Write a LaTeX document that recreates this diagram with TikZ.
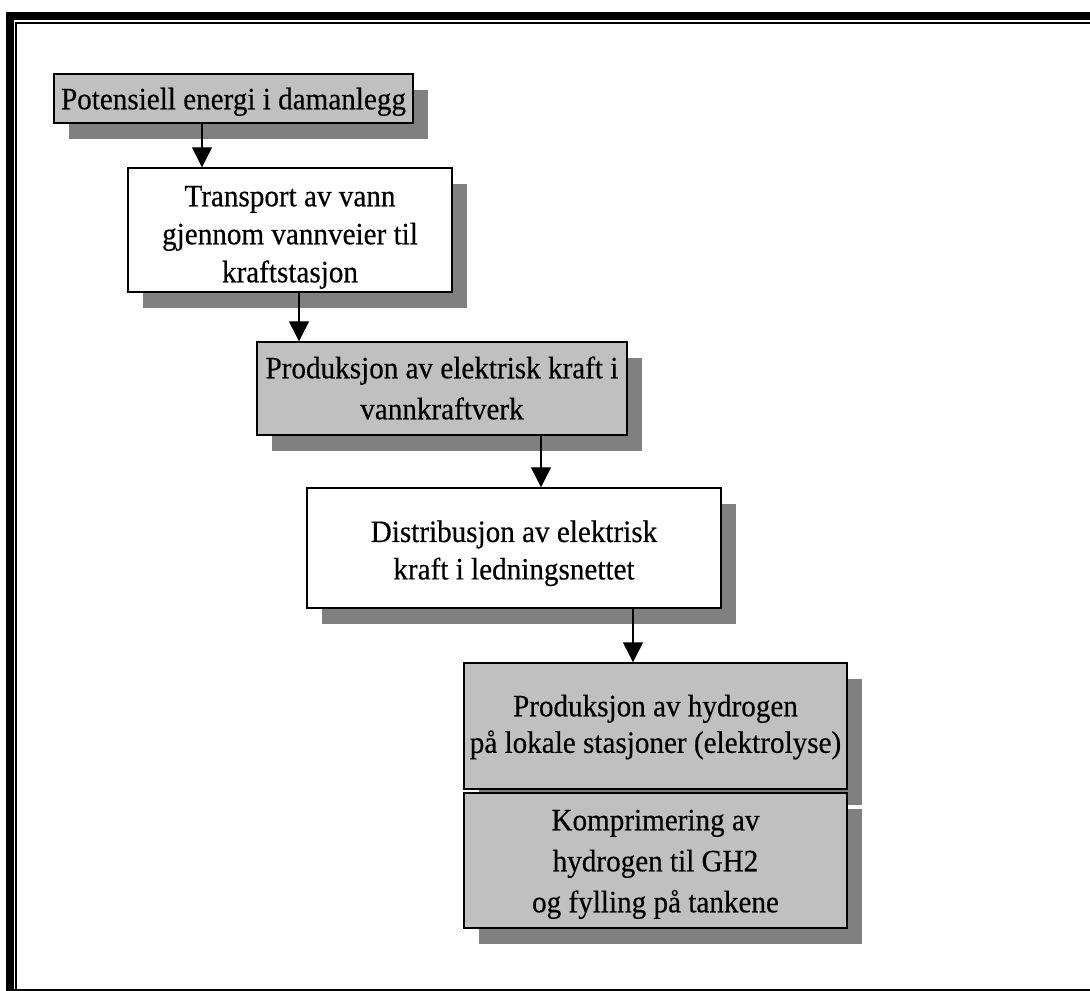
\documentclass[tikz,border=0pt]{standalone}
\usepackage{fontspec}
\setmainfont{Liberation Serif}[FakeStretch=0.94,FakeBold=0.4]
\usetikzlibrary{arrows.meta,shadows}
\definecolor{boxgray}{HTML}{C0C0C0}
\definecolor{shadowgray}{HTML}{808080}
\begin{document}
\lineskiplimit=-\maxdimen
\begin{tikzpicture}[x=0.75pt,y=-0.75pt,
  stepbox/.style={draw=black, line width=1.1pt, inner sep=0pt,
    drop shadow={shadow xshift=11.25pt, shadow yshift=-12pt, opacity=1, fill=shadowgray}},
  graybox/.style={stepbox, fill=boxgray},
  whitebox/.style={stepbox, fill=white},
  txt/.style={inner sep=0pt, align=center, anchor=north,
    font=\fontsize{23.25pt}{#1}\selectfont},
  arr/.style={draw=black, line width=1.1pt, -{Triangle[length=15pt,width=15pt]}}]
\useasboundingbox (0,0) rectangle (1090,991);
\clip (0,0) rectangle (1090,991);
\fill[white] (0,0) rectangle (1090,991);

% double frame: thick outer rule, thin inner rule
\fill[black] (6,12) rectangle (1100,20);
\fill[black] (6,12) rectangle (14,1000);
\fill[black] (6,988.7) rectangle (1100,1000);
\draw[line width=1.4pt] (16.4,1000) -- (16.4,22.7) -- (1100,22.7);

% process steps
\node[graybox, minimum width=269.25pt, minimum height=36.75pt] (b1) at (233.5,98.5) {};
\node[whitebox, minimum width=243pt, minimum height=93pt] (b2) at (290,230) {};
\node[graybox, minimum width=277.5pt, minimum height=69.75pt] (b3) at (442,388.5) {};
\node[whitebox, minimum width=310.5pt, minimum height=90pt] (b4) at (514,548) {};
\node[graybox, minimum width=287.25pt, minimum height=94.5pt] (b5) at (655.5,726) {};
\node[graybox, minimum width=287.25pt, minimum height=101.25pt] (b6) at (655.5,860.5) {};

% labels (first line raised by a strut of fixed height)
\node[txt=28.5pt] (t1) at (233.5,83) {\rule{0pt}{19.5pt}Potensiell energi i damanlegg};
\node[txt=28.5pt] (t2) at (290,180) {\rule{0pt}{19.5pt}Transport av vann\\gjennom vannveier til\\kraftstasjon};
\node[txt=30.75pt] (t3) at (442,352) {\rule{0pt}{19.5pt}Produksjon av elektrisk kraft i\\vannkraftverk};
\node[txt=28.1pt] (t4) at (514,515.7) {\rule{0pt}{19.5pt}Distribusjon av elektrisk\\kraft i ledningsnettet};
\node[txt=27.4pt] (t5) at (655.5,690) {\rule{0pt}{19.5pt}Produksjon av hydrogen\\på lokale stasjoner (elektrolyse)};
\node[txt=30.75pt] (t6) at (655.5,804) {\rule{0pt}{19.5pt}Komprimering av\\hydrogen til GH2\\og fylling på tankene};

% flow arrows
\draw[arr] (b1.south -| 202,0) -- (b2.north -| 202,0);
\draw[arr] (b2.south -| 299,0) -- (b3.north -| 299,0);
\draw[arr] (b3.south -| 541,0) -- (b4.north -| 541,0);
\draw[arr] (b4.south -| 633,0) -- (b5.north -| 633,0);
\end{tikzpicture}
\end{document}
